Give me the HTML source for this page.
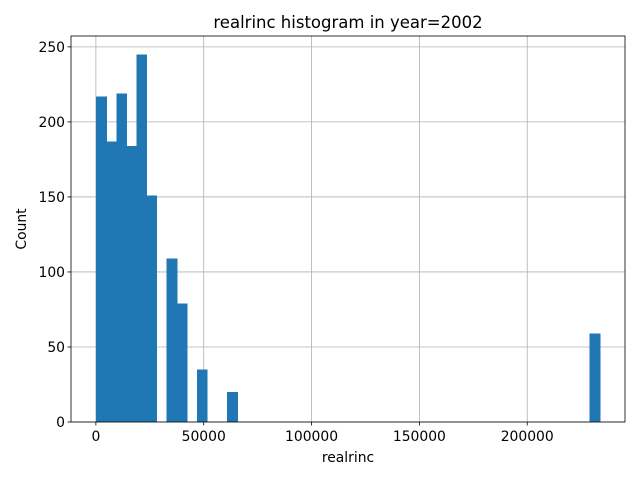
<!DOCTYPE html>
<html><head><meta charset="utf-8"><style>
body{margin:0;background:#fff;width:640px;height:480px;overflow:hidden}
text{font-family:"DejaVu Sans","Liberation Sans",sans-serif;fill:#000}
</style></head><body>
<svg id="chart" width="640" height="480" xmlns="http://www.w3.org/2000/svg">
<rect width="640" height="480" fill="#fff"/>
<g id="grid"></g><g id="bars" shape-rendering="crispEdges"></g><g id="axes"></g>
</svg>
<script>
const binCounts = [217,187,219,184,245,151,0,109,79,0,35,0,0,20,0,0,0,0,0,0,0,0,0,0,0,0,0,0,0,0,0,0,0,0,0,0,0,0,0,0,0,0,0,0,0,0,0,0,0,59];
const dataMin = 140;
const dataMax = 233660;
const xTicks = [0,50000,100000,150000,200000];
const yTicks = [0,50,100,150,200,250];

const L=71,R=625,T=36,B=422;
const xMin=dataMin-(dataMax-dataMin)*0.05, xMax=dataMax+(dataMax-dataMin)*0.05;
const yMax=Math.max(...binCounts)*1.05;
const X=v=>L+(v-xMin)/(xMax-xMin)*(R-L);
const Y=v=>B-v/yMax*(B-T);
const NS="http://www.w3.org/2000/svg";
function mk(tag,attrs,parent,txt){const e=document.createElementNS(NS,tag);for(const k in attrs)e.setAttribute(k,attrs[k]);if(txt!==undefined)e.textContent=txt;parent.appendChild(e);return e;}
const grid=document.getElementById('grid'),bars=document.getElementById('bars'),axes=document.getElementById('axes');
xTicks.forEach(t=>{const x=X(t);
 const g=mk('line',{x1:x,x2:x,y1:T,y2:B,stroke:'#b0b0b0','stroke-width':0.8},grid);
 
 mk('line',{x1:x,x2:x,y1:B,y2:B+3.5,stroke:'#000','stroke-width':0.8},axes);
 const l=mk('text',{x:x,y:B+19,'font-size':13.9,'text-anchor':'middle'},axes,String(t));
 });
yTicks.forEach(t=>{const y=Y(t);
 const g=mk('line',{x1:L,x2:R,y1:y,y2:y,stroke:'#b0b0b0','stroke-width':0.8},grid);
 
 mk('line',{x1:L-3.5,x2:L,y1:y,y2:y,stroke:'#000','stroke-width':0.8},axes);
 const l=mk('text',{x:L-6,y:y+5,'font-size':13.9,'text-anchor':'end'},axes,String(t));
 });
const bw=(dataMax-dataMin)/binCounts.length;
binCounts.forEach((c,i)=>{if(!c)return;const x0=X(dataMin+i*bw),x1=X(dataMin+(i+1)*bw);
 const r=mk('rect',{x:x0,y:Y(c),width:x1-x0+0.6,height:B-Y(c),fill:'#1f77b4'},bars);
 });
const f=mk('rect',{x:L,y:T,width:R-L,height:B-T,fill:'none',stroke:'#000','stroke-width':0.8},axes);

const ti=mk('text',{x:(L+R)/2,y:T-8,'font-size':16.5,'text-anchor':'middle'},axes,'realrinc histogram in year=2002');

const xl=mk('text',{x:(L+R)/2,y:462,'font-size':13.9,'text-anchor':'middle'},axes,'realrinc');

const yl=mk('text',{x:0,y:0,'font-size':13.9,'text-anchor':'middle',transform:'translate(26,'+((T+B)/2)+') rotate(-90)'},axes,'Count');

</script>
</body></html>
